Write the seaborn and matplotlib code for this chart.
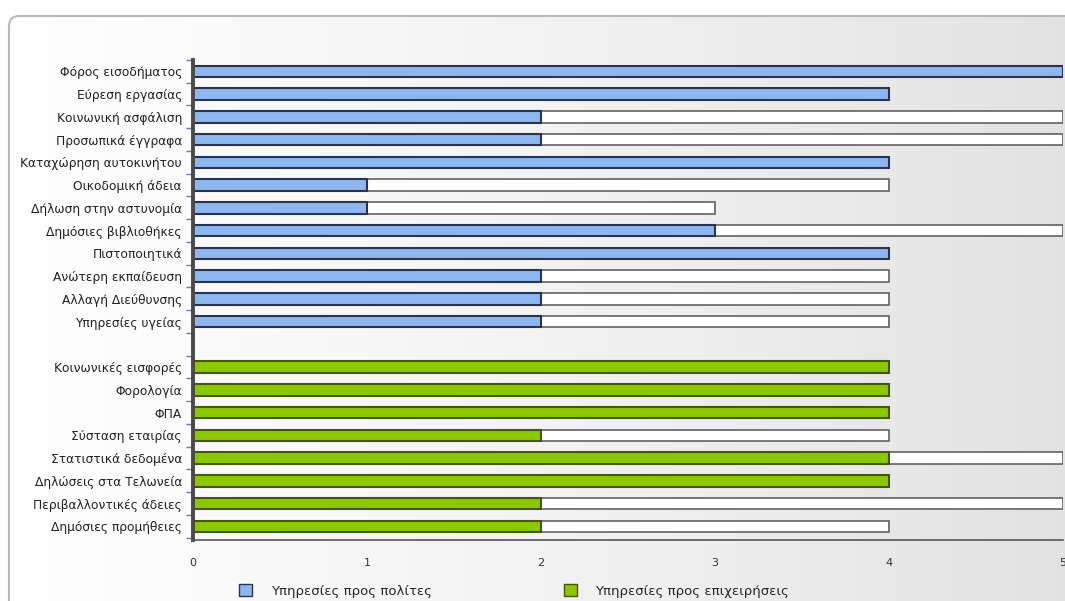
import numpy as np
import pandas as pd
import matplotlib
matplotlib.use("Agg")
import matplotlib.pyplot as plt
from matplotlib.patches import FancyBboxPatch, Patch
import seaborn as sns

citizen_services = [
    "Φόρος εισοδήματος", "Εύρεση εργασίας", "Κοινωνική ασφάλιση",
    "Προσωπικά έγγραφα", "Καταχώρηση αυτοκινήτου", "Οικοδομική άδεια",
    "Δήλωση στην αστυνομία", "Δημόσιες βιβλιοθήκες", "Πιστοποιητικά",
    "Ανώτερη εκπαίδευση", "Αλλαγή Διεύθυνσης", "Υπηρεσίες υγείας",
]
citizen_level = [5, 4, 2, 2, 4, 1, 1, 3, 4, 2, 2, 2]
citizen_max = [5, 4, 5, 5, 4, 4, 3, 5, 4, 4, 4, 4]

business_services = [
    "Κοινωνικές εισφορές", "Φορολογία", "ΦΠΑ", "Σύσταση εταιρίας",
    "Στατιστικά δεδομένα", "Δηλώσεις στα Τελωνεία",
    "Περιβαλλοντικές άδειες", "Δημόσιες προμήθειες",
]
business_level = [4, 4, 4, 2, 4, 4, 2, 2]
business_max = [4, 4, 4, 4, 5, 4, 5, 4]

group_names = ["Υπηρεσίες προς πολίτες", "Υπηρεσίες προς επιχειρήσεις"]
x_ticks = [0, 1, 2, 3, 4, 5]

df = pd.DataFrame({
    "service": citizen_services + business_services,
    "level": citizen_level + business_level,
    "maximum": citizen_max + business_max,
    "group": [group_names[0]] * len(citizen_services)
             + [group_names[1]] * len(business_services),
})
gap = " "
order = citizen_services + [gap] + business_services

BLUE, BLUE_EDGE = "#8db7ee", "#2a3452"
GREEN, GREEN_EDGE = "#8cc800", "#46560c"

sns.set_theme(style="white")
plt.rcParams["font.family"] = ["DejaVu Sans"]

W, H = 1065, 601
fig = plt.figure(figsize=(W / 100, H / 100), dpi=100)
fig.patch.set_facecolor("white")

# rounded panel with a soft left-to-right gradient
bg = fig.add_axes([0, 0, 1, 1], zorder=-5)
bg.set_xlim(0, W)
bg.set_ylim(H, 0)
bg.axis("off")
grad = np.linspace(0, 1, 256)[None, :]
cmap = matplotlib.colors.LinearSegmentedColormap.from_list("panel", ["#ffffff", "#f3f3f3", "#e2e2e2"])
im = bg.imshow(grad, extent=[9, W + 20, H + 20, 16], aspect="auto", cmap=cmap, zorder=0)
frame = FancyBboxPatch((9, 16), W + 20, H + 20, boxstyle="round,pad=0,rounding_size=10",
                       facecolor="none", edgecolor="#b8b8b8", linewidth=1.5, zorder=2)
bg.add_patch(frame)
im.set_clip_path(frame)

ax = fig.add_axes([193 / W, 1 - 540 / H, (1063 - 193) / W, (540 - 60) / H])
ax.patch.set_alpha(0)

# full-scale bars behind, achieved level in front
sns.barplot(data=df, y="service", x="maximum", order=order, orient="h",
            color="white", saturation=1, edgecolor="#555555", linewidth=1.1, width=0.5,
            ax=ax, errorbar=None)
n_back = len(ax.patches)
sns.barplot(data=df, y="service", x="level", order=order, orient="h",
            hue="group", hue_order=group_names, saturation=1,
            palette=[BLUE, GREEN], dodge=False, width=0.5,
            edgecolor=BLUE_EDGE, linewidth=1.5, ax=ax, errorbar=None, legend=False)
for bar in ax.patches[n_back:]:
    r, g, b, _ = bar.get_facecolor()
    if g > 0.7 and b < 0.3:
        bar.set_edgecolor(GREEN_EDGE)

ax.set_xlim(0, 5)
ax.set_ylim(20.6, -0.37)
ax.set_xticks(x_ticks)
ax.set_xticklabels([str(t) for t in x_ticks], fontsize=8, color="#333333")
ax.tick_params(axis="x", length=5, width=1, color="#555555", direction="out", pad=8)
ax.set_yticks(range(len(order)))
ax.set_yticklabels(order, fontsize=8.8, color="#222222")
ax.tick_params(axis="y", length=0, pad=8)
ax.set_yticks(np.arange(-0.5, len(order)), minor=True)
ax.tick_params(axis="y", which="minor", length=5, width=1, color="#6a78b0", left=True)
ax.set_xlabel("")
ax.set_ylabel("")
for side in ["top", "right"]:
    ax.spines[side].set_visible(False)
ax.spines["left"].set_color("#4a4a4a")
ax.spines["left"].set_linewidth(2.8)
ax.spines["bottom"].set_color("#555555")
ax.spines["bottom"].set_linewidth(1.2)

handles = [Patch(facecolor=BLUE, edgecolor=BLUE_EDGE, label=group_names[0]),
           Patch(facecolor=GREEN, edgecolor=GREEN_EDGE, label=group_names[1])]
fig.legend(handles=handles, loc="center", bbox_to_anchor=(514 / W, 1 - 591 / H),
           ncol=2, frameon=False, fontsize=9.5, handlelength=1.0, handleheight=1.0,
           columnspacing=10, handletextpad=1.4)

fig.savefig("out.png", dpi=100)
